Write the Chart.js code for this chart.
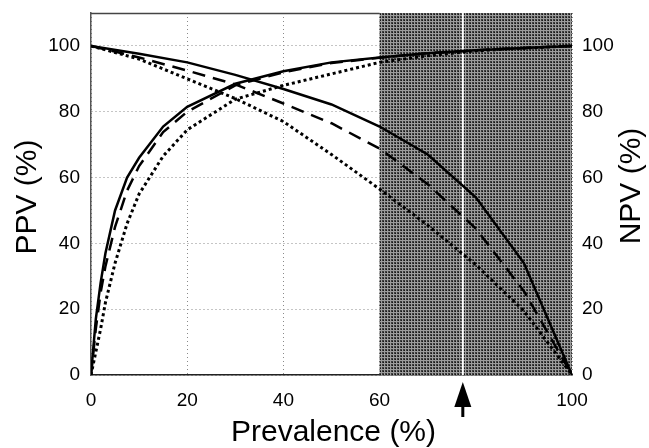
<!DOCTYPE html>
<html>
<head>
<meta charset="utf-8">
<script src="https://cdn.jsdelivr.net/npm/chart.js@4.4.0/dist/chart.umd.min.js"></script>
<style>
  body { margin: 0; background: #fff; }
  #wrap { width: 649px; height: 448px; }
</style>
</head>
<body>
<div id="wrap"><canvas id="chart" width="649" height="448"></canvas></div>
<script>
// prevalence (%) sampled for the PPV curves (denser near 0 where they climb fast)
const prevPPV = [0, 1, 2, 3, 5, 7.5, 10, 15, 20, 30, 40, 50, 60, 70, 80, 90, 100];
const ppvSolid  = [0, 17, 28, 37, 50, 60, 66, 75.5, 81.5, 88.5, 92.3, 95, 96.5, 97.8, 98.7, 99.4, 100];
const ppvDashed = [0, 14, 25, 33, 45, 56, 63.5, 73.8, 80, 88, 92, 94.8, 96.4, 97.8, 98.7, 99.4, 100];
const ppvDotted = [0, 7, 14, 22, 34, 46, 55, 66.5, 74.5, 83.8, 88, 91.5, 95, 97, 98.5, 99.3, 100];

// prevalence (%) sampled for the NPV curves
const prevNPV = [0, 10, 20, 30, 40, 50, 60, 70, 80, 90, 100];
const npvSolid  = [100, 97.6, 95, 91.2, 86.9, 82.2, 75.5, 67, 54, 34, 0];
const npvDashed = [100, 96.5, 92.5, 88.3, 82.5, 76.5, 68.8, 58, 44.5, 25.5, 0];
const npvDotted = [100, 96, 90, 84, 77, 67, 56.5, 45.5, 33.5, 19.5, 0];

const xTicks = [0, 20, 40, 60, 80, 100];
const xTickLabels = ['0', '20', '40', '60', '', '100'];
const yTicks = [0, 20, 40, 60, 80, 100];
const shadeFrom = 60, shadeTo = 100;
const markerPrevalence = 77.3;

const pts = (xs, ys) => xs.map((x, i) => ({ x: x, y: ys[i] }));

// halftone-ish grey for the shaded band
function makePattern(ctx) {
  const c = document.createElement('canvas');
  c.width = 3; c.height = 3;
  const p = c.getContext('2d');
  p.fillStyle = '#3e3e3e'; p.fillRect(0, 0, 3, 3);
  p.fillStyle = '#9c9c9c'; p.fillRect(0, 0, 3, 1); p.fillRect(0, 0, 1, 3);
  p.fillStyle = '#161616'; p.fillRect(2, 2, 1, 1);
  return ctx.createPattern(c, 'repeat');
}

const extras = {
  id: 'extras',
  beforeDatasetsDraw(chart) {
    const { ctx, chartArea: a, scales } = chart;
    const x = scales.x;
    const x0 = x.getPixelForValue(shadeFrom), x1 = x.getPixelForValue(shadeTo);
    ctx.save();
    ctx.fillStyle = makePattern(ctx);
    ctx.fillRect(x0, a.top, x1 - x0, a.bottom - a.top);
    // white marker line
    const xm = x.getPixelForValue(markerPrevalence);
    ctx.fillStyle = '#fff';
    ctx.fillRect(xm - 1, a.top, 2, a.bottom - a.top);
    // top frame
    ctx.strokeStyle = '#444';
    ctx.lineWidth = 1.5;
    ctx.beginPath();
    ctx.moveTo(a.left, a.top + 0.5);
    ctx.lineTo(x0, a.top + 0.5);
    ctx.stroke();
    ctx.restore();
  },
  afterDraw(chart) {
    const { ctx, chartArea: a, scales } = chart;
    const xm = scales.x.getPixelForValue(markerPrevalence);
    ctx.save();
    // arrow under the axis
    ctx.fillStyle = '#000';
    ctx.beginPath();
    ctx.moveTo(xm, a.bottom + 7);
    ctx.lineTo(xm - 8.5, a.bottom + 32);
    ctx.lineTo(xm + 8.5, a.bottom + 32);
    ctx.closePath();
    ctx.fill();
    ctx.fillRect(xm - 1.5, a.bottom + 30, 3, 12);
    // axis titles
    ctx.font = '30px "Liberation Sans", Arial, sans-serif';
    ctx.fillStyle = '#000';
    ctx.textAlign = 'center';
    ctx.textBaseline = 'middle';
    ctx.fillText('Prevalence (%)', (a.left + a.right) / 2 + 2, 433);
    ctx.translate(28, 197);
    ctx.rotate(-Math.PI / 2);
    ctx.fillText('PPV (%)', 0, 0);
    ctx.restore();
    ctx.save();
    ctx.font = '30px "Liberation Sans", Arial, sans-serif';
    ctx.fillStyle = '#000';
    ctx.textAlign = 'center';
    ctx.textBaseline = 'middle';
    ctx.translate(632, 186);
    ctx.rotate(-Math.PI / 2);
    ctx.fillText('NPV (%)', 0, 0);
    ctx.restore();
  }
};

const line = (data, dash, width, axis) => ({
  data: data,
  borderColor: '#000',
  borderWidth: width,
  borderDash: dash,
  pointRadius: 0,
  tension: 0,
  fill: false,
  yAxisID: axis
});

const tickFont = { family: '"Liberation Sans", Arial, sans-serif', size: 19 };
const gridStyle = { color: '#8a8a8a', lineWidth: 1, drawTicks: false };
const fitY = w => s => { s.width = w; s.paddingTop = 0; s.paddingBottom = 0; };

new Chart(document.getElementById('chart').getContext('2d'), {
  type: 'line',
  data: {
    datasets: [
      line(pts(prevPPV, ppvSolid), [], 2.5, 'y'),
      line(pts(prevPPV, ppvDashed), [13, 8], 2.5, 'y'),
      line(pts(prevPPV, ppvDotted), [3, 3], 3, 'y'),
      line(pts(prevNPV, npvSolid), [], 2.5, 'y1'),
      line(pts(prevNPV, npvDashed), [13, 8], 2.5, 'y1'),
      line(pts(prevNPV, npvDotted), [3, 3], 3, 'y1')
    ]
  },
  options: {
    responsive: false,
    animation: false,
    layout: { padding: { top: 13, left: 0, right: 0, bottom: 0 } },
    plugins: { legend: { display: false }, tooltip: { enabled: false } },
    scales: {
      x: {
        type: 'linear',
        min: 0, max: 100,
        afterBuildTicks: s => { s.ticks = xTicks.map(v => ({ value: v })); },
        afterFit: s => { s.height = 73; s.paddingLeft = 0; s.paddingRight = 0; },
        grid: gridStyle,
        border: { display: true, color: '#222', width: 1.5, dash: [1, 3] },
        ticks: {
          color: '#000', font: tickFont, padding: 14, maxRotation: 0,
          callback: v => xTickLabels[xTicks.indexOf(v)]
        }
      },
      y: {
        position: 'left',
        min: 0, max: 110,
        afterBuildTicks: s => { s.ticks = yTicks.map(v => ({ value: v })); },
        afterFit: fitY(91),
        grid: gridStyle,
        border: { display: true, color: '#555', width: 1.5, dash: [1, 3] },
        ticks: { color: '#000', font: tickFont, padding: 11 }
      },
      y1: {
        position: 'right',
        min: 0, max: 110,
        afterBuildTicks: s => { s.ticks = yTicks.map(v => ({ value: v })); },
        afterFit: fitY(77),
        grid: { display: false },
        border: { display: false },
        ticks: { color: '#000', font: tickFont, padding: 2 }
      }
    }
  },
  plugins: [extras]
});
</script>
</body>
</html>
